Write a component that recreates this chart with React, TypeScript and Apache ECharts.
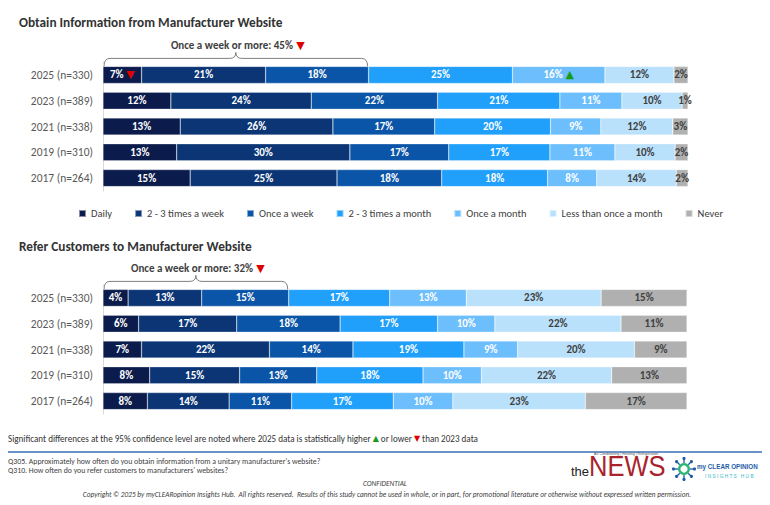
import React, { useEffect, useRef } from "react";
import * as echarts from "echarts";

const categories = ["2025 (n=330)", "2023 (n=389)", "2021 (n=338)", "2019 (n=310)", "2017 (n=264)"];
const seriesNames = [
  "Daily",
  "2 - 3 times a week",
  "Once a week",
  "2 - 3 times a month",
  "Once a month",
  "Less than once a month",
  "Never",
];
const colors = ["#0b1c4c", "#0b3575", "#0b55a8", "#20a0fb", "#6cbefc", "#b9e1fc", "#b0b0b0"];
const darkLabel = [false, false, false, false, false, true, true];

// Obtain information (top chart), one array per series, rows in category order
const topDaily = [6.6, 11.6, 13.2, 12.6, 14.9];
const topTwoThreeWeek = [21.2, 24.0, 26.1, 29.6, 25.1];
const topOnceWeek = [17.6, 21.6, 17.4, 16.9, 17.9];
const topTwoThreeMonth = [24.6, 20.9, 19.8, 17.3, 18.1];
const topOnceMonth = [15.8, 10.6, 8.6, 11.1, 8.4];
const topLess = [11.8, 10.3, 12.3, 10.3, 13.6];
const topNever = [2.4, 1.0, 2.6, 2.2, 2.0];

// Refer customers (bottom chart)
const botDaily = [4.3, 6.1, 6.6, 8.0, 7.6];
const botTwoThreeWeek = [12.6, 16.8, 21.9, 15.4, 14.0];
const botOnceWeek = [14.9, 17.7, 14.3, 13.2, 10.7];
const botTwoThreeMonth = [17.3, 16.7, 19.0, 18.2, 17.4];
const botOnceMonth = [13.1, 9.8, 9.2, 10.0, 10.2];
const botLess = [23.1, 21.6, 20.0, 22.3, 22.7];
const botNever = [14.7, 11.3, 9.0, 12.9, 17.4];

const topMarks = [
  ["Daily", "2025 (n=330)", "down"],
  ["Once a month", "2025 (n=330)", "up"],
];
const botMarks: string[][] = [];

const topTitle = "Obtain Information from Manufacturer Website";
const botTitle = "Refer Customers to Manufacturer Website";
const bracketLabel = "Once a week or more: ";
const topBracketMark = "down";
const botBracketMark = "down";

const FONT = "Carlito, Lato, 'Open Sans', sans-serif";

export default function App() {
  const ref = useRef<HTMLDivElement>(null);
  useEffect(() => {
    if (!ref.current) return;
    const chart = echarts.init(ref.current, null, { renderer: "svg" });
    const topData = [topDaily, topTwoThreeWeek, topOnceWeek, topTwoThreeMonth, topOnceMonth, topLess, topNever];
    const botData = [botDaily, botTwoThreeWeek, botOnceWeek, botTwoThreeMonth, botOnceMonth, botLess, botNever];

    const rich = {
      w: { color: "#ffffff", fontWeight: "bold", fontSize: 11, fontFamily: FONT },
      k: { color: "#404040", fontWeight: "bold", fontSize: 11, fontFamily: FONT },
      down: { color: "#e00000", fontSize: 11, fontFamily: "DejaVu Sans" },
      up: { color: "#1a9a1a", fontSize: 11, fontFamily: "DejaVu Sans" },
    };

    const makeSeries = (data: number[][], gridIdx: number, marks: string[][]) =>
      data.map((vals, i) => ({
        type: "bar",
        name: seriesNames[i],
        stack: "s" + gridIdx,
        xAxisIndex: gridIdx,
        yAxisIndex: gridIdx,
        barWidth: 17,
        data: vals,
        itemStyle: { color: colors[i], borderColor: "rgba(255,255,255,0.5)", borderWidth: 0.5 },
        label: {
          show: true,
          position: "inside",
          rich,
          formatter: (p: any) => {
            const key = darkLabel[i] ? "k" : "w";
            const txt = Math.round(p.value) + "%";
            const m = marks.find((mk) => mk[0] === seriesNames[i] && mk[1] === p.name);
            if (m) return `{${key}|${txt}} {${m[2]}|${m[2] === "down" ? "▼" : "▲"}}`;
            return `{${key}|${txt}}`;
          },
        },
      }));

    const yAxisBase = {
      type: "category",
      data: categories,
      inverse: true,
      axisTick: { show: false },
      axisLine: { show: true, lineStyle: { color: "#d9d9d9" } },
      axisLabel: { color: "#595959", fontSize: 11.5, margin: 10, fontFamily: FONT },
    };

    chart.setOption({
      animation: false,
      textStyle: { fontFamily: FONT },
      title: [
        { text: topTitle, left: 14, top: 11, textStyle: { fontSize: 13.3, fontWeight: "bold", color: "#333333", fontFamily: FONT } },
        { text: botTitle, left: 14, top: 235, textStyle: { fontSize: 13.3, fontWeight: "bold", color: "#333333", fontFamily: FONT } },
      ],
      legend: {
        data: seriesNames,
        left: 73,
        top: 203,
        icon: "rect",
        itemWidth: 7,
        itemHeight: 7,
        itemGap: 22,
        textStyle: { fontSize: 10.5, color: "#404040", fontFamily: FONT },
      },
      grid: [
        { left: 103, top: 62, width: 585, height: 129 },
        { left: 103, top: 285, width: 584, height: 129 },
      ],
      xAxis: [
        { type: "value", min: 0, max: 100, show: false, gridIndex: 0 },
        { type: "value", min: 0, max: 100, show: false, gridIndex: 1 },
      ],
      yAxis: [
        { ...yAxisBase, gridIndex: 0 },
        { ...yAxisBase, gridIndex: 1 },
      ],
      series: [...makeSeries(topData, 0, topMarks), ...makeSeries(botData, 1, botMarks)],
    });

    // Brackets computed from the data through the chart's axes
    const bracket = (gridIdx: number, data: number[][], yBar: number, name: string, mark: string) => {
      const sum = data[0][0] + data[1][0] + data[2][0];
      const xa = chart.convertToPixel({ xAxisIndex: gridIdx }, 0) as number;
      const xb = chart.convertToPixel({ xAxisIndex: gridIdx }, sum) as number;
      const xm = (xa + xb) / 2;
      const yb = yBar;
      const yl = yBar - 8;
      const yp = yBar - 14;
      const r = 6;
      const d =
        `M${xa + 1},${yb} Q${xa + 1},${yl} ${xa + 1 + r},${yl} L${xm - r},${yl} Q${xm},${yl} ${xm},${yp} ` +
        `Q${xm},${yl} ${xm + r},${yl} L${xb - 1 - r},${yl} Q${xb - 1},${yl} ${xb - 1},${yb}`;
      echarts.graphic.registerShape(name, echarts.graphic.extendPath(d, {}));
      return [
        {
          type: name,
          x: 0,
          y: 0,
          style: { fill: "none", stroke: "#7f7f7f", lineWidth: 1 },
          silent: true,
        },
        {
          type: "text",
          x: xm + 2,
          y: yp - 7,
          style: {
            text: `{t|${bracketLabel}${Math.round(sum)}%} {m|${mark === "down" ? "▼" : "▲"}}`,
            align: "center",
            verticalAlign: "middle",
            rich: {
              t: { fontSize: 11, fontWeight: "bold", fill: "#404040", fontFamily: FONT },
              m: { fontSize: 11, fill: mark === "down" ? "#e00000" : "#1a9a1a", fontFamily: "DejaVu Sans" },
            },
          },
        },
      ];
    };

    const yTopBar = (chart.convertToPixel({ yAxisIndex: 0 }, categories[0]) as number) - 8.5;
    const yBotBar = (chart.convertToPixel({ yAxisIndex: 1 }, categories[0]) as number) - 8.5;

    const spokes: any[] = [];
    const cx = 684;
    const cy = 469;
    for (let k = 0; k < 8; k++) {
      const a = (k * Math.PI) / 4;
      const x2 = cx + Math.cos(a) * 10.5;
      const y2 = cy + Math.sin(a) * 10.5;
      spokes.push({
        type: "line",
        shape: { x1: cx + Math.cos(a) * 6, y1: cy + Math.sin(a) * 6, x2, y2 },
        style: { stroke: "#1f5ca8", lineWidth: 1.3 },
      });
      spokes.push({ type: "circle", shape: { cx: x2, cy: y2, r: 1.6 }, style: { fill: "#1f5ca8" } });
    }

    const small = { fontSize: 7.8, fill: "#404040", fontFamily: FONT };

    chart.setOption({
      graphic: [
        ...bracket(0, topData, yTopBar, "braceTop", topBracketMark),
        ...bracket(1, botData, yBotBar, "braceBot", botBracketMark),
        {
          type: "text",
          left: 8,
          top: 434,
          style: {
            text: "{a|Significant differences at the 95% confidence level are noted where 2025 data is statistically higher }{g|▲}{a| or lower }{r|▼}{a| than 2023 data}",
            rich: {
              a: { fontSize: 9.1, fill: "#333333", fontFamily: FONT },
              g: { fontSize: 8, fill: "#1a9a1a", fontFamily: "DejaVu Sans" },
              r: { fontSize: 8, fill: "#e00000", fontFamily: "DejaVu Sans" },
            },
          },
        },
        { type: "line", shape: { x1: 8, y1: 452, x2: 762, y2: 452 }, style: { stroke: "#3b6fb6", lineWidth: 1.5 } },
        { type: "text", left: 8, top: 457, style: { text: "Q305. Approximately how often do you obtain information from a unitary manufacturer's website?", ...small } },
        { type: "text", left: 8, top: 466, style: { text: "Q310. How often do you refer customers to manufacturers' websites?", ...small } },
        { type: "text", x: 385, y: 483, style: { text: "CONFIDENTIAL", align: "center", verticalAlign: "middle", ...small, fontSize: 7.3, fontStyle: "italic" } },
        {
          type: "text",
          x: 387,
          y: 494,
          style: {
            text: "Copyright © 2025 by myCLEARopinion Insights Hub.  All rights reserved.  Results of this study cannot be used in whole, or in part, for promotional literature or otherwise without expressed written permission.",
            align: "center",
            verticalAlign: "middle",
            ...small,
            fontSize: 7.3,
            fontStyle: "italic",
          },
        },
        // theNEWS logo
        { type: "text", x: 571, y: 478, style: { text: "the", fontSize: 13, fill: "#222222", fontFamily: "Liberation Sans", verticalAlign: "bottom" } },
        {
          type: "text",
          x: 589,
          y: 480,
          scaleX: 0.88,
          style: { text: "NEWS", fontSize: 29, fill: "#a8232b", fontFamily: "Liberation Sans", verticalAlign: "bottom" },
        },
        { type: "text", x: 594, y: 454, style: { text: "Air Conditioning | Heating | Refrigeration", fontSize: 3.6, fill: "#555555", fontFamily: "Liberation Sans", verticalAlign: "middle" } },
        // myCLEARopinion logo
        ...spokes,
        { type: "ring", shape: { cx, cy, r: 6, r0: 3.6 }, style: { fill: "#2bb673" } },
        { type: "text", x: 697, y: 466, scaleX: 0.9, style: { text: "my CLEAR OPINION", fontSize: 7, fontWeight: "bold", fill: "#1f5ca8", fontFamily: "Liberation Sans", verticalAlign: "middle" } },
        { type: "text", x: 705, y: 476, style: { text: "I N S I G H T S   H U B", fontSize: 4.8, fill: "#3ab7c8", fontFamily: "Liberation Sans", verticalAlign: "middle" } },
      ],
    });

    return () => chart.dispose();
  }, []);
  return <div ref={ref} style={{ position: "fixed", left: 0, top: 0, width: 770, height: 505, background: "#fff" }} />;
}
